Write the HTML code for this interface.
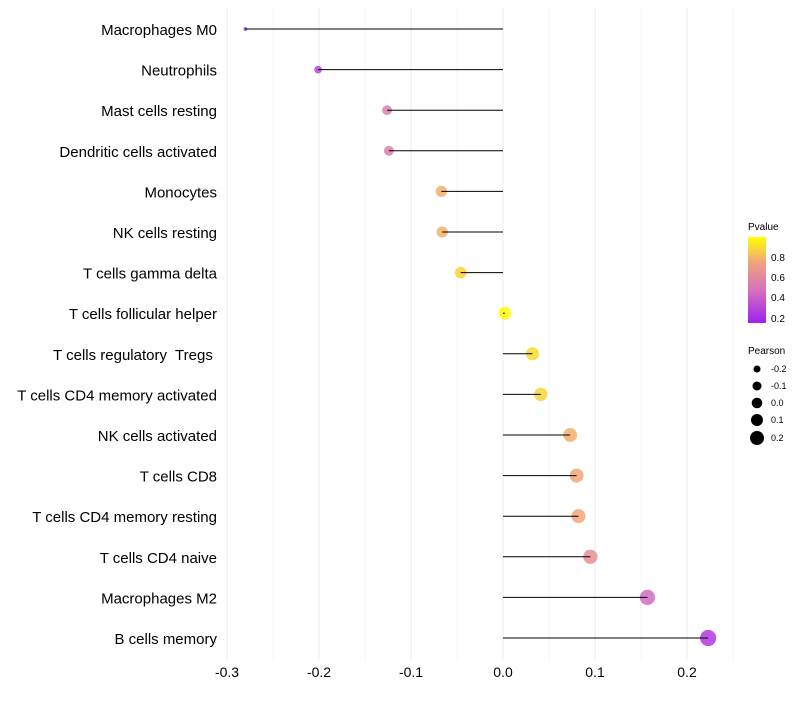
<!DOCTYPE html>
<html><head><meta charset="utf-8"><style>
body{margin:0;background:#fff;font-family:"Liberation Sans",sans-serif}
text{white-space:pre}
</style></head><body>
<svg id="chart" width="800" height="700" xmlns="http://www.w3.org/2000/svg">
<defs><linearGradient id="pg" x1="0" y1="1" x2="0" y2="0">
<stop offset="0" stop-color="#a020f0"/><stop offset="0.4" stop-color="#d874b8"/><stop offset="0.7" stop-color="#f0a27e"/><stop offset="1" stop-color="#ffff00"/>
</linearGradient></defs>
<g id="grid"></g>
<g id="marks"></g>
<g id="ylabels"></g>
<g id="xlabels"></g>
<g font-size="10" fill="#000">
<text x="748" y="230">Pvalue</text>
<rect x="748" y="237" width="18" height="86" fill="url(#pg)"/>
<text x="771" y="261">0.8</text><text x="771" y="281">0.6</text><text x="771" y="301">0.4</text><text x="771" y="322">0.2</text>
</g>
<g font-size="9" fill="#000">
<text x="748" y="354" font-size="10">Pearson</text>
<circle cx="757" cy="369" r="3.5"/><text x="771" y="372">-0.2</text>
<circle cx="757" cy="386" r="4.5"/><text x="771" y="389">-0.1</text>
<circle cx="757" cy="403" r="5.3"/><text x="771" y="406">0.0</text>
<circle cx="757" cy="420" r="6"/><text x="771" y="423">0.1</text>
<circle cx="757" cy="438" r="7"/><text x="771" y="441">0.2</text>
</g>
</svg>
<script>
const cells=["Macrophages M0","Neutrophils","Mast cells resting","Dendritic cells activated","Monocytes","NK cells resting","T cells gamma delta","T cells follicular helper","T cells regulatory  Tregs ","T cells CD4 memory activated","NK cells activated","T cells CD8","T cells CD4 memory resting","T cells CD4 naive","Macrophages M2","B cells memory"];
const pearson=[-0.280,-0.201,-0.126,-0.124,-0.067,-0.066,-0.046,0.002,0.032,0.041,0.073,0.080,0.082,0.095,0.157,0.223];
const pvalue=[0.15,0.3,0.55,0.55,0.78,0.78,0.88,0.99,0.9,0.88,0.78,0.75,0.75,0.65,0.45,0.25];
const xticks=[-0.3,-0.2,-0.1,0.0,0.1,0.2];
const NS="http://www.w3.org/2000/svg";
const x=v=>503+v*920;
const y=i=>29+i*40.6;
function col(p){
 const st=[[0.15,[160,32,240]],[0.49,[216,116,184]],[0.74,[240,162,126]],[1.0,[255,255,0]]];
 if(p<=st[0][0])return"rgb("+st[0][1]+")";
 for(let k=1;k<st.length;k++){if(p<=st[k][0]){const a=st[k-1],b=st[k],t=(p-a[0])/(b[0]-a[0]);return"rgb("+a[1].map((c,j)=>Math.round(c+(b[1][j]-c)*t)).join(",")+")";}}
 return"rgb(255,255,0)";}
function el(t,a,p){const e=document.createElementNS(NS,t);for(const k in a)e.setAttribute(k,a[k]);p.appendChild(e);return e;}
const grid=document.getElementById('grid'),marks=document.getElementById('marks'),yl=document.getElementById('ylabels'),xl=document.getElementById('xlabels');
for(let v=-0.3;v<=0.2501;v+=0.05){const g=el('line',{x1:x(v),x2:x(v),y1:8,y2:660,stroke:Math.abs(Math.round(v*100))%10===0?'#ebebeb':'#f4f4f4','stroke-width':1},grid);

}
xticks.forEach(v=>{const t=el('text',{x:x(v),y:677,'text-anchor':'middle','font-size':14,fill:'#000'},xl);t.textContent=v.toFixed(1);

});
cells.forEach((c,i)=>{
 const t=el('text',{x:217,y:y(i)+6,'text-anchor':'end','font-size':15,fill:'#000'},yl);t.textContent=c;
 
 
 const r=0.8+10.2*Math.sqrt(Math.max(0,pearson[i]+0.29));
 const d=el('circle',{cx:x(pearson[i]),cy:y(i),r:r,fill:col(pvalue[i]),'fill-opacity':0.85},marks);
 
 
 const l=el('line',{x1:x(0),x2:x(pearson[i]),y1:y(i),y2:y(i),stroke:'#000','stroke-width':1},marks);
 
 
});
</script>
</body></html>
